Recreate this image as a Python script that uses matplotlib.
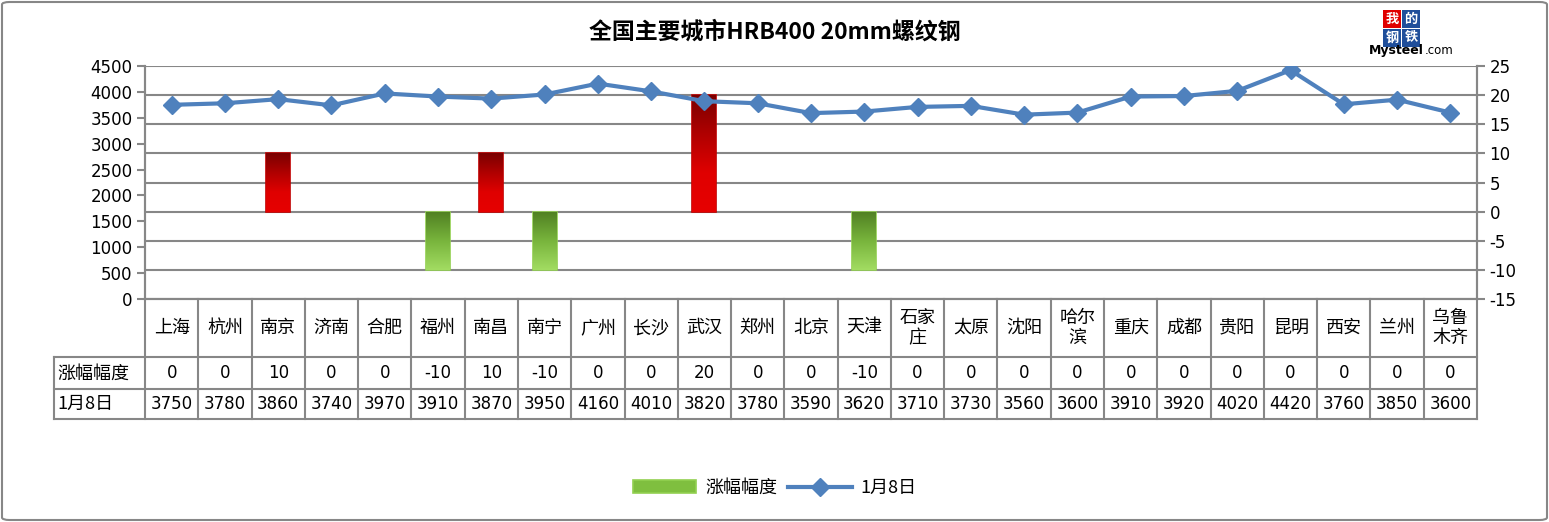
import matplotlib.pyplot as plt
import numpy as np
from matplotlib.colors import LinearSegmentedColormap
from matplotlib.lines import Line2D
from matplotlib.patches import Patch, FancyBboxPatch, Rectangle
from matplotlib.transforms import blended_transform_factory

plt.rcParams['font.family'] = ['DejaVu Sans', 'Noto Sans CJK SC']
plt.rcParams['axes.unicode_minus'] = False

cities = ['上海', '杭州', '南京', '济南', '合肥', '福州', '南昌', '南宁', '广州', '长沙',
          '武汉', '郑州', '北京', '天津', '石家\n庄', '太原', '沈阳', '哈尔\n滨', '重庆', '成都',
          '贵阳', '昆明', '西安', '兰州', '乌鲁\n木齐']
change = [0, 0, 10, 0, 0, -10, 10, -10, 0, 0, 20, 0, 0, -10, 0, 0, 0, 0, 0, 0, 0, 0, 0, 0, 0]
price = [3750, 3780, 3860, 3740, 3970, 3910, 3870, 3950, 4160, 4010, 3820, 3780, 3590, 3620,
         3710, 3730, 3560, 3600, 3910, 3920, 4020, 4420, 3760, 3850, 3600]
row_labels = ['涨幅幅度', '1月8日']

grey = '#878787'
line_c = '#4f81bd'
cjk = ['Noto Sans CJK SC', 'DejaVu Sans']

W, H = 1549, 522
fig = plt.figure(figsize=(W / 100, H / 100), dpi=100)
ax = fig.add_axes([145 / W, (H - 299) / H, 1332 / W, 233 / H])
ax2 = ax.twinx()

x = np.arange(len(cities))

# bars (right axis)
bar_cols = ['#c00000' if v > 0 else '#7fbf3f' for v in change]
edge_cols = ['#c00000' if v > 0 else '#92d050' for v in change]
edge_w = [1.2 if v != 0 else 0 for v in change]
bars = ax.bar(x, change, width=0.45, color=bar_cols, edgecolor=edge_cols, linewidth=edge_w, zorder=3)
red_cm = LinearSegmentedColormap.from_list('r', ['#7a0000', '#b00000', '#e00000', '#e60000'])
green_cm = LinearSegmentedColormap.from_list('g', ['#4f7f22', '#78b43c', '#a2dc62'])
grad = np.linspace(0, 1, 256).reshape(-1, 1)
for b, v in zip(bars, change):
    if v == 0:
        continue
    x0, w = b.get_x(), b.get_width()
    y0, h = b.get_y(), b.get_height()
    im = ax.imshow(grad, cmap=red_cm if v > 0 else green_cm, aspect='auto', origin='upper',
                   extent=(x0, x0 + w, min(y0, y0 + h), max(y0, y0 + h)), zorder=3.5)
    im.set_clip_path(b)

ax.set_xlim(-0.5, len(cities) - 0.5)
ax.set_ylim(-15, 25)
ax.set_yticks(range(-15, 26, 5))
ax.yaxis.tick_right()
ax.grid(axis='y', color=grey, linewidth=1.5, zorder=0)
ax.set_axisbelow(True)

# line (left axis)
ax2.plot(x, price, color=line_c, linewidth=3, marker='D', markersize=9, zorder=5)
ax2.set_ylim(0, 4500)
ax2.set_yticks(range(0, 4501, 500))
ax2.yaxis.tick_left()
ax2.set_xlim(-0.5, len(cities) - 0.5)

for a in (ax, ax2):
    a.set_xticks([])
    a.tick_params(axis='y', direction='out', length=6, width=1.5, color=grey, labelsize=12, pad=3)
    a.spines['top'].set_visible(False)
    for s in ('left', 'right', 'bottom'):
        a.spines[s].set_color(grey)
        a.spines[s].set_linewidth(1.5)

# data table under the plot
tr = blended_transform_factory(ax.transData, ax.transAxes)
def yf(py):
    return (299 - py) / 233.0
xl = -0.5 - 91 / 53.28
for i in range(len(cities) + 1):
    ax.plot([i - 0.5, i - 0.5], [yf(299), yf(419)], color=grey, lw=1.5, transform=tr, clip_on=False)
ax.plot([xl, xl], [yf(357), yf(419)], color=grey, lw=1.5, transform=tr, clip_on=False)
for py in [357, 389, 419]:
    ax.plot([xl, len(cities) - 0.5], [yf(py), yf(py)], color=grey, lw=1.5, transform=tr, clip_on=False)

for i, c in enumerate(cities):
    ax.text(i, yf(328), c, ha='center', va='center', fontsize=13, transform=tr,
            linespacing=1.15, family=cjk)
    ax.text(i, yf(373.5), str(change[i]), ha='center', va='center', fontsize=12, transform=tr)
    ax.text(i, yf(404), str(price[i]), ha='center', va='center', fontsize=12, transform=tr)
ax.text(xl + 0.06, yf(373.5), row_labels[0], ha='left', va='center', fontsize=13, transform=tr, family=cjk)
ax.text(xl + 0.06, yf(404), row_labels[1], ha='left', va='center', fontsize=13, transform=tr, family=cjk)

# title
fig.text(775 / W, 1 - 32 / H, '全国主要城市HRB400 20mm螺纹钢', ha='center', va='center',
         fontsize=16.5, fontweight='bold', family=cjk)

# legend
handles = [Patch(facecolor='#7fbf3f', edgecolor='#92d050', linewidth=1.2),
           Line2D([], [], color=line_c, lw=3, marker='D', markersize=9)]
fig.legend(handles, row_labels, loc='center', bbox_to_anchor=(775 / W, 1 - 488 / H), ncol=2,
           frameon=False, handlelength=3.5, columnspacing=0.6, handletextpad=0.5,
           prop={'family': cjk, 'size': 13})

# logo
logo = [('我', 1383, 10, '#e00000'), ('的', 1402, 10, '#1f4e9a'),
        ('钢', 1383, 28.5, '#1f4e9a'), ('铁', 1402, 28.5, '#1f4e9a')]
for ch, lx, ly, col in logo:
    fig.patches.append(Rectangle((lx / W, 1 - (ly + 18) / H), 18 / W, 18 / H, facecolor=col,
                                 edgecolor='none', transform=fig.transFigure, figure=fig))
    fig.text((lx + 9) / W, 1 - (ly + 9) / H, ch, color='white', ha='center', va='center',
             fontsize=9.5, fontweight='bold', family=cjk)
my = fig.text(1369 / W, 1 - 54 / H, 'Mysteel', fontsize=9, fontweight='bold', ha='left', va='baseline')
fig.add_artist(plt.Annotation('.com', xy=(1, 0), xycoords=my, xytext=(0.5, 0),
                              textcoords='offset points', fontsize=8.5, ha='left', va='bottom'))

# outer border
fig.patches.append(FancyBboxPatch((2 / W, 2 / H), 1 - 4 / W, 1 - 4 / H,
                                  boxstyle='round,pad=0,rounding_size=0.005',
                                  facecolor='none', edgecolor=grey, linewidth=1.5,
                                  transform=fig.transFigure, figure=fig))

fig.savefig('out.png', dpi=100)
